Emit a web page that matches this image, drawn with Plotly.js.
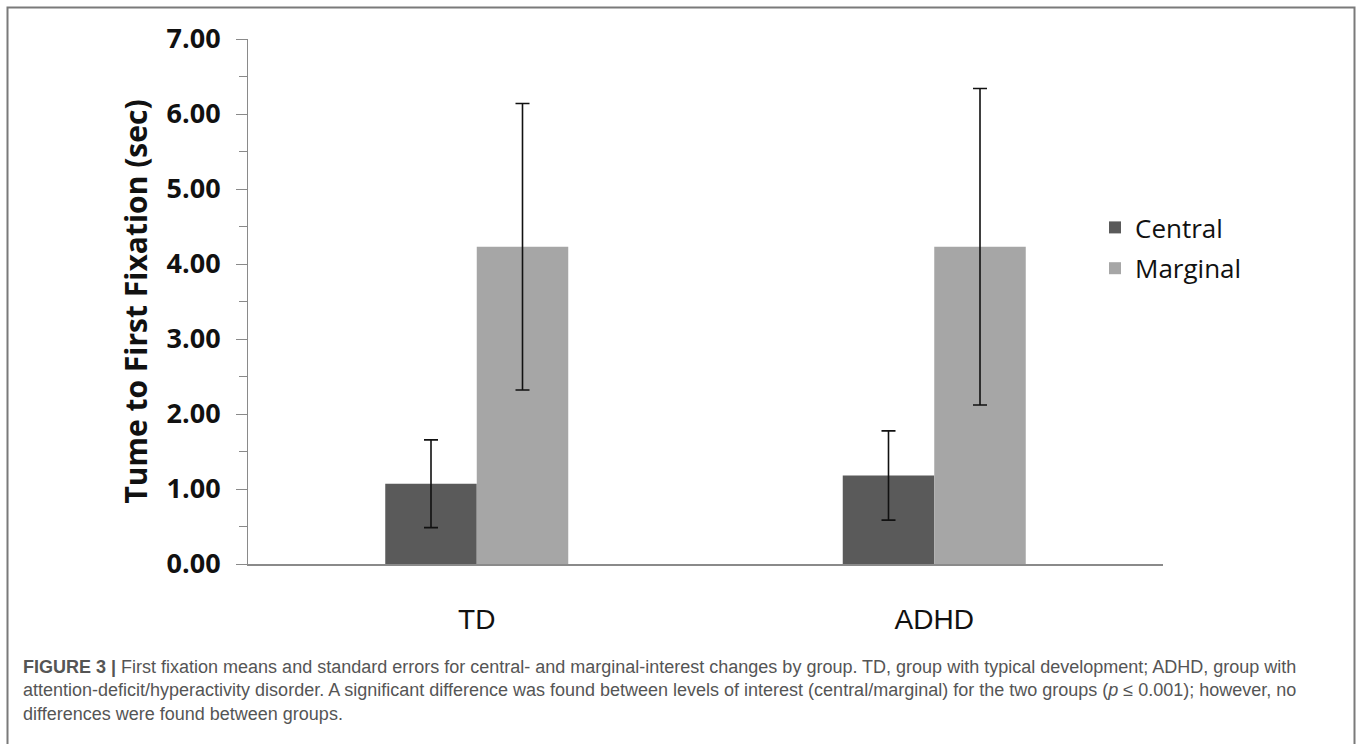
<!DOCTYPE html>
<html>
<head>
<meta charset="utf-8">
<script src="https://cdn.plot.ly/plotly-3.0.1.min.js"></script>
<style>
  html, body { margin: 0; padding: 0; background: #fff; }
  #chart { width: 1357px; height: 744px; }
</style>
</head>
<body>
<div id="chart"></div>
<script>
// ---- data ----
const groups = ['TD', 'ADHD'];
const centralMeans = [1.07, 1.18];
const centralErrors = [0.585, 0.595];
const marginalMeans = [4.23, 4.23];
const marginalErrors = [1.91, 2.11];
const yTickValues = [0, 1, 2, 3, 4, 5, 6, 7];
const yTickLabels = ['0.00', '1.00', '2.00', '3.00', '4.00', '5.00', '6.00', '7.00'];
const captionLines = [
  '<b>FIGURE 3 |</b> First fixation means and standard errors for central- and marginal-interest changes by group. TD, group with typical development; ADHD, group with',
  'attention-deficit/hyperactivity disorder. A significant difference was found between levels of interest (central/marginal) for the two groups (<i>p</i> ≤ 0.001); however, no',
  'differences were found between groups.'
];

// ---- geometry helpers (pixel -> paper) ----
const W = 1357, H = 744;
const M = { l: 248, r: 194, t: 39, b: 180 };
const PW = W - M.l - M.r, PH = H - M.t - M.b;
const px = x => (x - M.l) / PW;
const py = y => (H - M.b - y) / PH;

const traces = [
  {
    type: 'bar', name: 'Central', x: groups, y: centralMeans,
    marker: { color: '#5a5a5a', line: { width: 0 } },
    error_y: { type: 'data', array: centralErrors, visible: true, color: '#111', thickness: 1.6, width: 7 },
    legendgroup: 'c', hoverinfo: 'y'
  },
  {
    type: 'bar', name: 'Marginal', x: groups, y: marginalMeans,
    marker: { color: '#a6a6a6', line: { width: 0 } },
    error_y: { type: 'data', array: marginalErrors, visible: true, color: '#111', thickness: 1.6, width: 7 },
    legendgroup: 'm', hoverinfo: 'y'
  }
];

const annotations = [{
  text: captionLines.join('<br>'), xref: 'paper', yref: 'paper', x: px(21), y: py(690),
  xanchor: 'left', yanchor: 'middle', showarrow: false, align: 'left',
  font: { family: 'Liberation Sans, Arial, sans-serif', size: 18, color: '#555' }
}];

const layout = {
  width: W, height: H, autosize: false,
  margin: M,
  paper_bgcolor: '#fff', plot_bgcolor: '#fff',
  barmode: 'group', bargap: 0.6, bargroupgap: 0,
  showlegend: true,
  legend: {
    x: px(1095), y: py(248), xanchor: 'left', yanchor: 'middle',
    font: { family: 'Open Sans, sans-serif', size: 26, color: '#111' },
    bgcolor: 'rgba(0,0,0,0)', traceorder: 'grouped', tracegroupgap: 4
  },
  xaxis: {
    type: 'category', categoryorder: 'array', categoryarray: groups,
    range: [-0.5, 1.5], fixedrange: true,
    showline: true, linecolor: '#8a8a8a', linewidth: 1.5,
    ticks: '', showgrid: false, zeroline: false,
    ticklabelstandoff: 30,
    tickfont: { family: 'Liberation Sans, Arial, sans-serif', size: 28, color: '#111' }
  },
  yaxis: {
    range: [0, 7], fixedrange: true,
    tickvals: yTickValues, ticktext: yTickLabels,
    ticks: 'outside', ticklen: 11, tickcolor: '#8a8a8a', tickwidth: 1,
    minor: { tickvals: [0.5, 1.5, 2.5, 3.5, 4.5, 5.5, 6.5], ticks: 'outside', ticklen: 8, tickcolor: '#8a8a8a', tickwidth: 1, showgrid: false },
    showline: true, linecolor: '#8a8a8a', linewidth: 1,
    showgrid: false, zeroline: false,
    ticklabelstandoff: 10,
    tickfont: { family: 'Open Sans, sans-serif', size: 27, color: '#111', weight: 'bold' },
    title: {
      text: 'Tume to First Fixation (sec)', standoff: 10,
      font: { family: 'Open Sans, sans-serif', size: 30, color: '#111', weight: 'bold' }
    }
  },
  shapes: [
    {
      type: 'rect', xref: 'paper', yref: 'paper',
      x0: px(7.5), x1: px(1354.5), y0: py(770), y1: py(7.5),
      line: { color: '#7a7a7a', width: 2 }, fillcolor: 'rgba(0,0,0,0)', layer: 'below'
    }
  ],
  annotations: annotations
};

Plotly.newPlot('chart', traces, layout, { displayModeBar: false, staticPlot: true });
</script>
</body>
</html>
